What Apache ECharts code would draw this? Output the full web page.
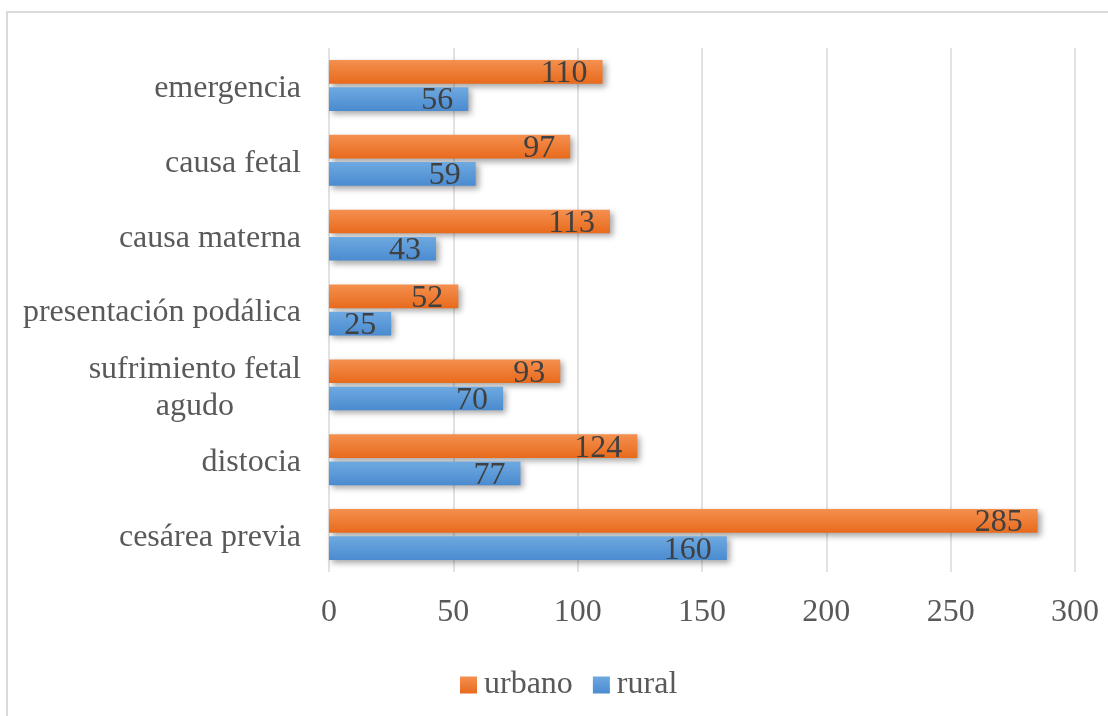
<!DOCTYPE html>
<html>
<head>
<meta charset="utf-8">
<script src="https://cdn.jsdelivr.net/npm/echarts@6/dist/echarts.min.js"></script>
<style>
  html, body { margin: 0; padding: 0; background: #fff; }
  #chart { width: 1108px; height: 716px; }
</style>
</head>
<body>
<div id="chart"></div>
<script>
// Indicaciones de cesárea por procedencia (top to bottom)
const categories = [
  'emergencia',
  'causa fetal',
  'causa materna',
  'presentación podálica',
  'sufrimiento fetal\nagudo',
  'distocia',
  'cesárea previa'
];
const urbano = [110, 97, 113, 52, 93, 124, 285];
const rural = [56, 59, 43, 25, 70, 77, 160];
const xTicks = { min: 0, max: 300, interval: 50 };

const FONT = '"Liberation Serif", "Times New Roman", serif';

function grad(top, bottom) {
  return new echarts.graphic.LinearGradient(0, 0, 0, 1, [
    { offset: 0, color: top },
    { offset: 1, color: bottom }
  ]);
}

const shadow = {
  shadowColor: 'rgba(0,0,0,0.35)',
  shadowBlur: 6,
  shadowOffsetX: 3,
  shadowOffsetY: 3
};

const labelStyle = {
  show: true,
  position: 'insideRight',
  distance: 15,
  offset: [0, 2],
  fontFamily: FONT,
  fontSize: 32,
  color: '#404040'
};

const chart = echarts.init(document.getElementById('chart'), null, { renderer: 'canvas' });

chart.setOption({
  animation: false,
  backgroundColor: '#fff',
  graphic: [{
    type: 'rect',
    shape: { x: 7, y: 12, width: 1200, height: 800 },
    style: { fill: 'none', stroke: '#d9d9d9', lineWidth: 2 },
    silent: true
  }],
  grid: { left: 329, right: 33, top: 48, bottom: 144, containLabel: false },
  legend: {
    left: 455,
    top: 664,
    itemWidth: 17,
    itemHeight: 17,
    itemGap: 20,
    icon: 'rect',
    textStyle: { fontFamily: FONT, fontSize: 32, color: '#595959', padding: [0, 0, 0, 2] },
    data: ['urbano', 'rural']
  },
  xAxis: {
    type: 'value',
    min: xTicks.min,
    max: xTicks.max,
    interval: xTicks.interval,
    axisLine: { show: false },
    axisTick: { show: false },
    splitLine: { show: true, lineStyle: { color: '#d9d9d9', width: 1.5 } },
    axisLabel: { margin: 25, fontFamily: FONT, fontSize: 32, color: '#595959', lineHeight: 32 }
  },
  yAxis: {
    type: 'category',
    inverse: true,
    data: categories,
    axisLine: { show: false },
    axisTick: { show: false },
    axisLabel: {
      margin: 28,
      fontFamily: FONT,
      fontSize: 32,
      color: '#595959',
      lineHeight: 37,
      padding: [6, 0, 0, 0],
      formatter: function (v) {
        return v.split('\n').map(function (s) { return '{c|' + s + '}'; }).join('\n');
      },
      rich: {
        c: { align: 'center', fontFamily: FONT, fontSize: 32, color: '#595959', lineHeight: 37 }
      }
    }
  },
  series: [
    {
      name: 'urbano',
      type: 'bar',
      data: urbano,
      barCategoryGap: '32%',
      barGap: '15%',
      itemStyle: Object.assign({ color: grad('#F4904F', '#E86A1C') }, shadow),
      label: labelStyle
    },
    {
      name: 'rural',
      type: 'bar',
      data: rural,
      barCategoryGap: '32%',
      barGap: '15%',
      itemStyle: Object.assign({ color: grad('#6EA9E0', '#4A8BD0') }, shadow),
      label: labelStyle
    }
  ]
});
</script>
</body>
</html>
